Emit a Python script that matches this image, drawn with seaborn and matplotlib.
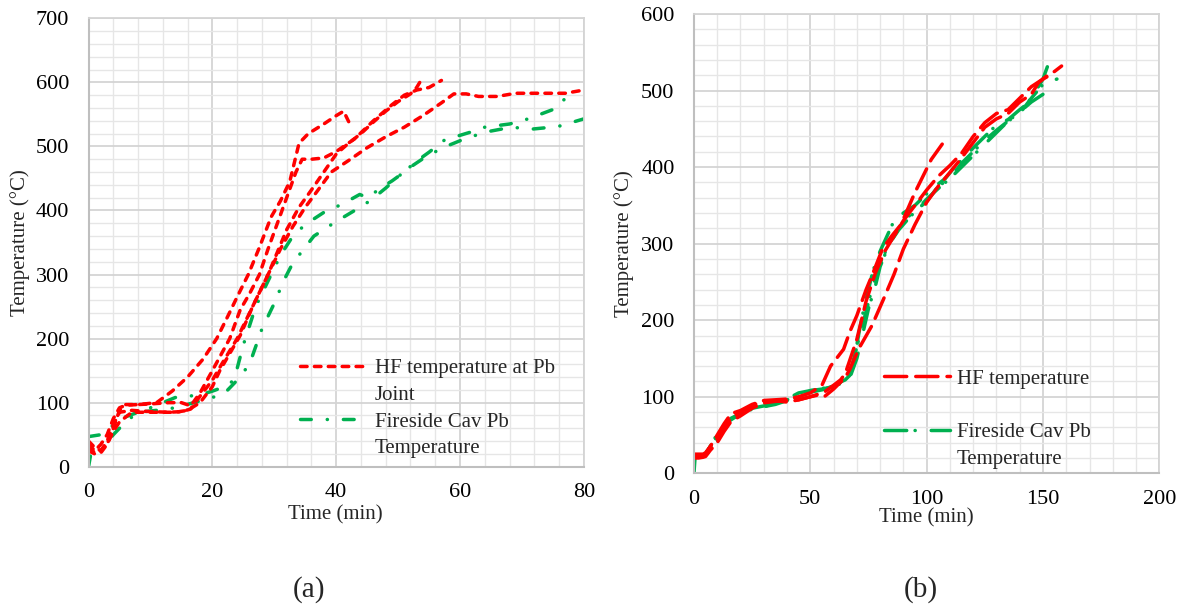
import matplotlib
matplotlib.use("Agg")
import matplotlib.pyplot as plt
from matplotlib.ticker import MultipleLocator
from matplotlib.lines import Line2D
import seaborn as sns
import pandas as pd

# ---------------- data: panel (a) ----------------
a_red1_x = [0, 1, 2, 3, 4, 5, 6, 8, 11, 13.5, 16, 18.5, 20.7, 22.5, 24, 25.8, 27.5, 29.5, 31, 32.5, 34, 35.5, 38, 40, 41.2, 42.2]
a_red1_y = [35, 25, 35, 50, 75, 92, 96, 97, 100, 118, 140, 168, 200, 235, 265, 300, 340, 390, 415, 445, 505, 520, 535, 548, 555, 535]
a_red2_x = [0, 1, 2, 3, 4, 5, 6, 8, 10, 13, 15, 16.5, 18, 20, 22.8, 24.5, 26, 27.6, 29, 30.5, 32, 33.5, 34.5, 36, 38, 40, 43, 46, 49, 51, 53, 55, 57]
a_red2_y = [40, 30, 25, 35, 60, 88, 97, 97, 98, 100, 100, 95, 115, 150, 200, 245, 270, 300, 340, 380, 420, 460, 480, 480, 482, 492, 512, 540, 565, 580, 588, 592, 603]
a_red3_x = [0, 1, 2, 3, 4, 5, 7, 10, 13, 15, 16.5, 18, 20, 21.5, 24, 26, 27.5, 29, 30.5, 32, 34, 36, 38, 40, 42, 44, 46, 48, 50, 52, 53, 54]
a_red3_y = [30, 22, 25, 40, 65, 85, 88, 86, 85, 86, 90, 110, 135, 160, 200, 240, 270, 300, 335, 370, 405, 432, 460, 488, 505, 520, 538, 555, 570, 582, 592, 608]
a_red4_x = [0, 1, 2, 3, 4, 5, 7, 10, 14, 16, 18, 20, 21.2, 23, 24.5, 26.5, 29, 31, 33, 35, 37, 39.2, 42, 45, 48, 51, 54, 57, 59, 61, 63, 66, 69, 72, 77, 80]
a_red4_y = [25, 20, 22, 35, 55, 70, 85, 85, 85, 88, 100, 125, 150, 180, 205, 250, 300, 340, 375, 405, 431, 460, 478, 498, 515, 530, 548, 568, 582, 582, 578, 578, 583, 583, 583, 588]

a_grn1_x = [0, 2, 4, 6, 8, 10, 12, 14, 16, 18, 20, 22, 23.5, 25, 27, 29, 31, 33, 35, 38, 41, 43.8, 45.1, 47.3, 49, 51, 52.7, 55, 57.5, 61.6, 64, 68, 71, 75.4, 77.2]
a_grn1_y = [47, 50, 65, 78, 85, 92, 100, 108, 110, 112, 118, 125, 135, 190, 250, 290, 330, 360, 378, 397, 410, 425, 420, 436, 446, 460, 475, 491, 510, 522, 530, 535, 543, 559, 577]
a_grn2_x = [0, 0.4, 2, 4, 6, 8, 11, 14, 17, 20, 22, 24, 26, 28, 30, 31.5, 33, 34.3, 36.4, 39.7, 43.5, 45.6, 48, 51.1, 54.8, 58, 61.3, 65, 68.3, 71.6, 75.8, 80]
a_grn2_y = [0, 22, 25, 50, 70, 85, 88, 92, 100, 108, 115, 135, 160, 215, 255, 290, 318, 334, 360, 381, 403, 416, 435, 462, 486, 501, 514, 524, 530, 527, 531, 543]

# ---------------- data: panel (b) ----------------
b_red1_x = [0, 2, 4, 5, 7, 10, 13, 16, 20, 25, 30, 35, 40, 45, 50, 55, 58.7, 64.3, 67, 70, 74, 77, 81, 85, 89, 95, 102, 106.7]
b_red1_y = [25, 25, 25, 27, 35, 50, 65, 78, 82, 90, 95, 96, 97, 100, 105, 115, 140, 162, 185, 206, 240, 262, 293, 310, 325, 367, 410, 430]
b_red2_x = [0, 2, 4, 5, 7, 10, 13, 16, 20, 25, 30, 35, 40, 45, 50, 53, 56, 60, 63, 65, 70, 74, 78, 82, 86, 90, 95, 100, 105, 110, 115, 120, 125, 130, 135, 140, 145, 150, 153]
b_red2_y = [20, 20, 21, 22, 30, 40, 55, 68, 75, 85, 92, 94, 95, 96, 100, 103, 106, 115, 122, 130, 175, 225, 262, 290, 310, 330, 350, 370, 388, 402, 418, 440, 458, 470, 475, 490, 505, 515, 520]
b_red3_x = [0, 2, 4, 5, 7, 10, 13, 16, 20, 25, 30, 35, 40, 45, 50, 53, 56, 60, 65, 67, 70.7, 76.5, 81.4, 86, 90, 95, 100, 105, 110, 115, 120, 125, 130, 135, 140, 145, 148, 152, 155, 158]
b_red3_y = [22, 22, 23, 25, 35, 45, 60, 72, 80, 88, 95, 95, 93, 96, 100, 102, 100, 110, 125, 136, 162, 193, 227, 260, 293, 325, 354, 375, 393, 412, 432, 452, 463, 470, 485, 495, 510, 520, 525, 532]

b_grn1_x = [0, 0.5, 2, 4, 5, 7, 10, 13, 16, 20, 22, 25, 30, 35, 40, 45, 50, 55, 58, 62, 65, 67, 69, 71, 73, 75, 77, 80, 83, 86, 90, 95, 100, 105, 108, 112, 116, 120, 125, 130, 135, 140, 143, 147, 150, 152]
b_grn1_y = [0, 22, 22, 22, 23, 30, 42, 60, 70, 78, 80, 85, 88, 92, 97, 105, 108, 110, 115, 118, 122, 128, 150, 185, 215, 240, 265, 290, 310, 330, 340, 350, 365, 378, 385, 400, 412, 425, 440, 455, 462, 475, 482, 500, 515, 532]
b_grn2_x = [0, 2, 4, 5, 7, 10, 13, 16, 20, 25, 30, 35, 40, 45, 50, 55, 60, 65, 67, 70, 72, 75, 78, 80, 84, 88, 92, 96, 100, 105, 110, 115, 120, 125, 130, 135, 140, 145, 150, 156]
b_grn2_y = [22, 22, 23, 25, 35, 48, 62, 72, 78, 85, 87, 90, 95, 100, 108, 110, 113, 120, 125, 150, 175, 215, 245, 270, 300, 320, 335, 345, 355, 375, 385, 400, 415, 430, 445, 460, 470, 490, 508, 515]
b_grn3_x = [0, 3, 5, 8, 10, 14, 18, 22, 26, 30, 35, 40, 45, 50, 55, 60, 64, 67, 70, 73, 76, 80, 84, 88, 92, 96, 100, 105, 110, 115, 120, 125, 130, 135, 140, 145, 150, 152]
b_grn3_y = [24, 24, 25, 40, 52, 66, 74, 80, 85, 87, 92, 96, 100, 106, 109, 114, 120, 130, 165, 200, 235, 275, 300, 318, 332, 345, 358, 372, 385, 405, 420, 435, 448, 460, 472, 485, 495, 500]

label_a_red = "HF temperature at Pb"
label_a_red2 = "Joint"
label_b_red = "HF temperature"
label_grn = "Fireside Cav Pb"
label_grn2 = "Temperature"

# ---------------- style ----------------
sns.set_theme(style="white")
plt.rcParams["font.family"] = ["Liberation Serif", "DejaVu Serif"]

RED = "#FF0000"
GREEN = "#00B050"
LW = 2.5
a_red_ls = (0, (1.9, 2.1))
a_grn_ls = (0, (3.1, 4.6, 0.05, 4.6))
b_red_ls = (0, (6.4, 2.6))
b_grn_ls = (0, (6.4, 2.4, 0.05, 4.6))

fig = plt.figure(figsize=(11.79, 6.10), dpi=100)
ax1 = fig.add_axes([0.0751, 0.2349, 0.4201, 0.7351])
ax2 = fig.add_axes([0.5886, 0.2241, 0.3947, 0.7530])


def draw(ax, xs, ys, color, ls):
    df = pd.DataFrame({"t": xs, "T": ys})
    sns.lineplot(data=df, x="t", y="T", ax=ax, color=color, linewidth=LW,
                 linestyle=ls, dash_capstyle="round", estimator=None, sort=False)


for xs, ys in [(a_grn2_x, a_grn2_y), (a_grn1_x, a_grn1_y)]:
    draw(ax1, xs, ys, GREEN, a_grn_ls)
for xs, ys in [(a_red4_x, a_red4_y), (a_red3_x, a_red3_y), (a_red2_x, a_red2_y), (a_red1_x, a_red1_y)]:
    draw(ax1, xs, ys, RED, a_red_ls)

for xs, ys in [(b_grn3_x, b_grn3_y), (b_grn2_x, b_grn2_y), (b_grn1_x, b_grn1_y)]:
    draw(ax2, xs, ys, GREEN, b_grn_ls)
for xs, ys in [(b_red3_x, b_red3_y), (b_red2_x, b_red2_y), (b_red1_x, b_red1_y)]:
    draw(ax2, xs, ys, RED, b_red_ls)


def style_axes(ax, xmax, xmaj, xmin, ymax):
    ax.set_xlim(0, xmax)
    ax.set_ylim(0, ymax)
    ax.xaxis.set_major_locator(MultipleLocator(xmaj))
    ax.xaxis.set_minor_locator(MultipleLocator(xmin))
    ax.yaxis.set_major_locator(MultipleLocator(100))
    ax.yaxis.set_minor_locator(MultipleLocator(20))
    ax.grid(which="major", color="#D4D4D4", linewidth=1.3)
    ax.grid(which="minor", color="#E6E6E6", linewidth=1.0)
    ax.set_axisbelow(True)
    ax.tick_params(which="both", length=0, labelsize=16, colors="black")
    ax.tick_params(axis="x", pad=12)
    ax.tick_params(axis="y", pad=14)
    for s in ["left", "bottom"]:
        ax.spines[s].set_color("#BFBFBF")
        ax.spines[s].set_linewidth(1.5)
    for s in ["top", "right"]:
        ax.spines[s].set_color("#D4D4D4")
        ax.spines[s].set_linewidth(1.3)
    ax.set_xlabel("Time (min)", fontsize=15)
    ax.set_ylabel("Temperature (°C)", fontsize=15)
    ax.xaxis.label.set_va("center")
    ax.yaxis.label.set_va("center")


style_axes(ax1, 80, 20, 4, 700)
style_axes(ax2, 200, 50, 10, 600)

ax1.xaxis.set_label_coords(0.498, -0.108)
ax1.yaxis.set_label_coords(-0.138, 0.5)
ax2.xaxis.set_label_coords(0.50, -0.097)
ax2.yaxis.set_label_coords(-0.150, 0.5)

blank = Line2D([], [], linestyle="none")


def add_legend(ax, handles, labels, anchor, hl):
    ax.legend(handles, labels, loc="upper left", bbox_to_anchor=anchor,
              frameon=False, fontsize=15, handlelength=hl, handletextpad=0.3,
              labelspacing=0.34, borderpad=0, borderaxespad=0)


h_a_red = Line2D([], [], color=RED, linewidth=LW, linestyle=a_red_ls, dash_capstyle="round")
h_a_grn = Line2D([], [], color=GREEN, linewidth=LW, linestyle=a_grn_ls, dash_capstyle="round")
h_b_red = Line2D([], [], color=RED, linewidth=LW, linestyle=b_red_ls, dash_capstyle="round")
h_b_grn = Line2D([], [], color=GREEN, linewidth=LW, linestyle=b_grn_ls, dash_capstyle="round")

add_legend(ax1, [h_a_red, blank, h_a_grn, blank],
           [label_a_red, label_a_red2, label_grn, label_grn2], (0.427, 0.241), 3.3)
add_legend(ax2, [h_b_red, blank, h_b_grn, blank],
           [label_b_red, "", label_grn, label_grn2], (0.408, 0.227), 3.2)

fig.text(309 / 1179, 1 - 590 / 610, "(a)", fontsize=21, ha="center", va="center")
fig.text(921 / 1179, 1 - 590 / 610, "(b)", fontsize=21, ha="center", va="center")

fig.savefig("out.png", dpi=100)
